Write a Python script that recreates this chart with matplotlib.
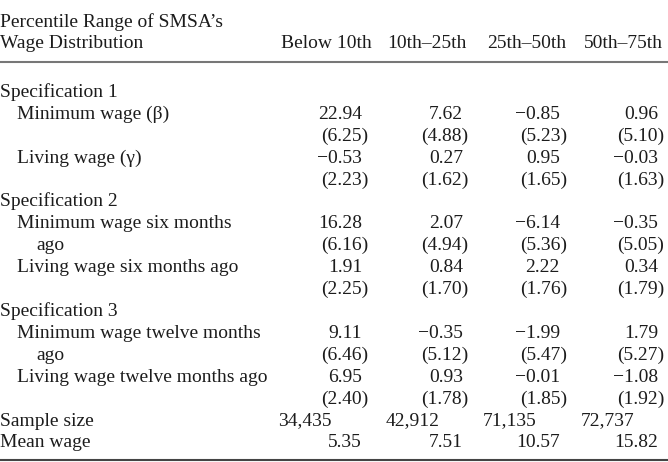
import matplotlib.pyplot as plt

# Column headers and row labels.
header_left = ["Percentile Range of SMSA\u2019s", "Wage Distribution"]
columns = ["Below 10th", "10th\u201325th", "25th\u201350th", "50th\u201375th"]

# Coefficients and standard errors, one list per row.
min_wage = [22.94, 7.62, -0.85, 0.96]
min_wage_se = [6.25, 4.88, 5.23, 5.10]
living_wage = [-0.53, 0.27, 0.95, -0.03]
living_wage_se = [2.23, 1.62, 1.65, 1.63]
min_wage_6 = [16.28, 2.07, -6.14, -0.35]
min_wage_6_se = [6.16, 4.94, 5.36, 5.05]
living_wage_6 = [1.91, 0.84, 2.22, 0.34]
living_wage_6_se = [2.25, 1.70, 1.76, 1.79]
min_wage_12 = [9.11, -0.35, -1.99, 1.79]
min_wage_12_se = [6.46, 5.12, 5.47, 5.27]
living_wage_12 = [6.95, 0.93, -0.01, -1.08]
living_wage_12_se = [2.40, 1.78, 1.85, 1.92]
sample_size = [34435, 42912, 71135, 72737]
mean_wage = [5.35, 7.51, 10.57, 15.82]


def coef(v):
    s = f"{abs(v):.2f}"
    return ("\u2212" + s) if v < 0 else s


# (label, indent level, kind, values)
rows = [
    ("Specification 1", 0, None, None),
    ("Minimum wage (\u03b2)", 1, "coef", min_wage),
    ("", 0, "se", min_wage_se),
    ("Living wage (\u03b3)", 1, "coef", living_wage),
    ("", 0, "se", living_wage_se),
    ("Specification 2", 0, None, None),
    ("Minimum wage six months", 1, "coef", min_wage_6),
    ("ago", 2, "se", min_wage_6_se),
    ("Living wage six months ago", 1, "coef", living_wage_6),
    ("", 0, "se", living_wage_6_se),
    ("Specification 3", 0, None, None),
    ("Minimum wage twelve months", 1, "coef", min_wage_12),
    ("ago", 2, "se", min_wage_12_se),
    ("Living wage twelve months ago", 1, "coef", living_wage_12),
    ("", 0, "se", living_wage_12_se),
    ("Sample size", 0, "n", sample_size),
    ("Mean wage", 0, "coef", mean_wage),
]

W, H = 668, 462
fig = plt.figure(figsize=(W / 100, H / 100), dpi=100)
ax = fig.add_axes([0, 0, 1, 1])
ax.set_xlim(0, W)
ax.set_ylim(H, 0)
ax.axis('off')

font = dict(family='Liberation Serif', fontsize=14, color='#1c1c1c', va='baseline')

# Right edges for each column, by kind of entry.
right_coef = [362, 463, 560, 658]
right_se = [368, 468, 567, 664]
right_n = [332, 440, 537, 635]
right_head = [372, 467, 566, 663]
indents = [0, 17, 36]

# Header.
ax.text(0, 27, header_left[0], ha='left', **font)
ax.text(0, 48, header_left[1], ha='left', **font)
for x, c in zip(right_head, columns):
    ax.text(x, 48, c, ha='right', **font)
ax.axhline(62, color='#777777', linewidth=1.5)

# Body.
y0, dy = 97, 21.9
for i, (label, lvl, kind, vals) in enumerate(rows):
    y = y0 + i * dy
    if label:
        ax.text(indents[lvl], y, label, ha='left', **font)
    if kind == "coef":
        for x, v in zip(right_coef, vals):
            ax.text(x, y, coef(v), ha='right', **font)
    elif kind == "se":
        for x, v in zip(right_se, vals):
            ax.text(x, y, f"({v:.2f})", ha='right', **font)
    elif kind == "n":
        for x, v in zip(right_n, vals):
            ax.text(x, y, f"{v:,}", ha='right', **font)

ax.axhline(460, color='#444444', linewidth=1.5)

fig.savefig('out.png', dpi=100)
